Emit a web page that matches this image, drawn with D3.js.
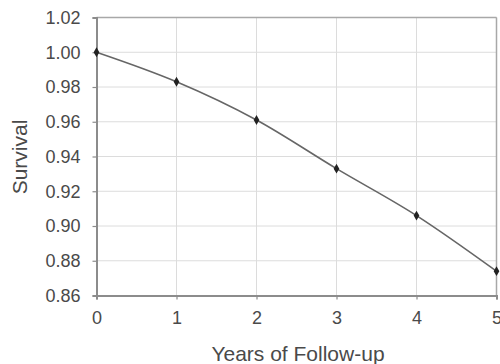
<!DOCTYPE html>
<html><head><meta charset="utf-8">
<script src="https://cdn.jsdelivr.net/npm/d3@7"></script>
<style>body{margin:0;background:#fff}svg{display:block}</style>
</head><body>
<svg id="c" width="500" height="364"></svg>
<script>
const years = [0, 1, 2, 3, 4, 5];
const survival = [1.000, 0.983, 0.961, 0.933, 0.906, 0.874];
const xTicks = [0, 1, 2, 3, 4, 5];
const yTicks = [0.86, 0.88, 0.90, 0.92, 0.94, 0.96, 0.98, 1.00, 1.02];
const xTitle = "Years of Follow-up";
const yTitle = "Survival";

const svg = d3.select("#c");
const m = {l: 96.5, r: 496.5, t: 17.5, b: 295.5};
const x = d3.scaleLinear().domain([0, 5]).range([m.l, m.r]);
const y = d3.scaleLinear().domain([0.86, 1.02]).range([m.b, m.t]);
const font = "Arial, 'Liberation Sans', sans-serif";

// gridlines
svg.append("g").selectAll("line").data(yTicks).join("line")
  .attr("x1", m.l).attr("x2", m.r).attr("y1", d => y(d)).attr("y2", d => y(d))
  .attr("stroke", "#dcdcdc").attr("stroke-width", 1);
svg.append("g").selectAll("line").data(xTicks).join("line")
  .attr("y1", m.t).attr("y2", m.b).attr("x1", d => x(d)).attr("x2", d => x(d))
  .attr("stroke", "#dcdcdc").attr("stroke-width", 1);

// frame top/right
svg.append("line").attr("x1", m.l).attr("x2", m.r).attr("y1", m.t).attr("y2", m.t)
  .attr("stroke", "#a8a8a8").attr("stroke-width", 1.5);
svg.append("line").attr("x1", m.r).attr("x2", m.r).attr("y1", m.t).attr("y2", m.b)
  .attr("stroke", "#a8a8a8").attr("stroke-width", 1.5);

// axes
const xAxis = svg.append("g").attr("transform", `translate(0,${m.b})`)
  .call(d3.axisBottom(x).tickValues(xTicks).tickFormat(d3.format("d")).tickSize(4).tickPadding(12));
const yAxis = svg.append("g").attr("transform", `translate(${m.l},0)`)
  .call(d3.axisLeft(y).tickValues(yTicks).tickFormat(d3.format(".2f")).tickSize(4).tickPadding(12));
[xAxis, yAxis].forEach(a => {
  a.select(".domain").attr("stroke", "#8c8c8c").attr("stroke-width", 2);
  a.selectAll(".tick line").attr("stroke", "#8c8c8c").attr("stroke-width", 1.2);
  a.selectAll(".tick text").attr("fill", "#4a4a4a").style("font-family", font).style("font-size", "18px");
});

// line
const pts = years.map((d, i) => [d, survival[i]]);
svg.append("path").datum(pts)
  .attr("fill", "none").attr("stroke", "#666").attr("stroke-width", 1.6)
  .attr("d", d3.line().x(d => x(d[0])).y(d => y(d[1])).curve(d3.curveMonotoneX));

// markers
svg.append("g").selectAll("path").data(pts).join("path")
  .attr("transform", d => `translate(${x(d[0])},${y(d[1])})`)
  .attr("d", d3.symbol().type(d3.symbolDiamond).size(28))
  .attr("fill", "#222");

// titles
svg.append("text").attr("x", 298).attr("y", 361).attr("text-anchor", "middle")
  .attr("fill", "#4a4a4a").style("font-family", font).style("font-size", "21px").text(xTitle);
svg.append("text").attr("transform", "translate(27,157) rotate(-90)").attr("text-anchor", "middle")
  .attr("fill", "#4a4a4a").style("font-family", font).style("font-size", "21px").text(yTitle);
</script>
</body></html>
